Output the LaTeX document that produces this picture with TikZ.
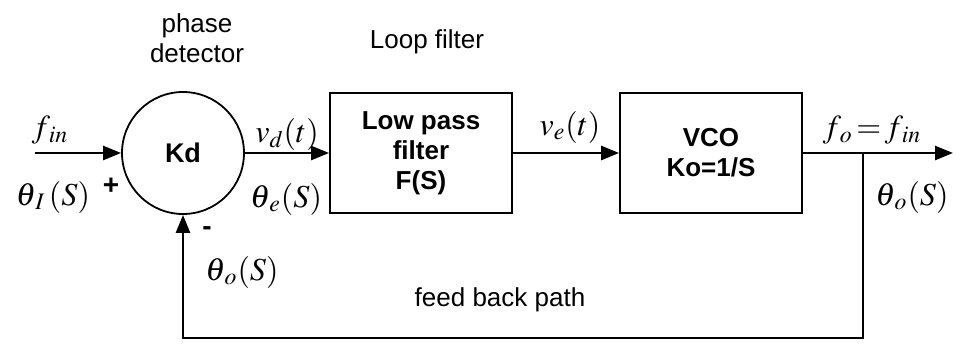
\documentclass[tikz,border=0pt]{standalone}
\usepackage{mathptmx}
\usepackage[no-math]{fontspec}
\setmainfont{Liberation Sans}
\usetikzlibrary{arrows.meta, positioning}

\begin{document}
\begin{tikzpicture}[x=0.5pt, y=-0.5pt, >={Triangle[length=9pt, width=7pt]},
  blk/.style={draw, line width=0.9pt, minimum width=91pt, minimum height=60pt, inner sep=0pt,
              align=center, font=\fontsize{13}{15}\selectfont\bfseries},
  txt/.style={align=center, font=\fontsize{13}{15}\selectfont},
  sig/.style={inner sep=0pt, font=\fontsize{16}{18}\selectfont},
  wire/.style={line width=1.3pt}]
  \useasboundingbox (0,0) rectangle (965,348);
  % blocks
  \node[circle, draw, line width=0.9pt, minimum size=61pt, inner sep=0pt,
        font=\fontsize{13.5}{15}\selectfont\bfseries] (pd) at (183,153) {Kd};
  \node[blk] (lpf) at (421,153) {Low pass\\filter\\F(S)};
  \node[blk] (vco) at (711,153) {VCO\\Ko=1/S};
  % titles
  \node[txt] (pdname) at (197,38) {phase\\detector};
  \node[txt] (lfname) at (427,42) {Loop filter};
  \node[txt] (fbname) at (500,300) {feed back path};
  % forward path
  \coordinate (fin) at (35,153);
  \coordinate (fout) at (953,153);
  \coordinate (br) at (863,153);
  \coordinate (fb) at (863,338);
  \draw[wire, ->] (fin) -- (pd.west);
  \draw[wire, ->] (pd.east) -- (lpf.west);
  \draw[wire, ->] (lpf.east) -- (vco.west);
  \draw[wire, ->] (vco.east) -- (fout);
  % feed back path
  \draw[wire, ->] (br) -- (fb) -| (pd.south);
  % signals
  \node[sig] (fi) at (50,130) {$f_{\,in}$};
  \node[sig] (thi) at (53,197) {$\theta_{\,I}\,(S)$};
  \node[font=\fontsize{14}{15}\selectfont\bfseries] (plus) at (111,186) {+};
  \node[font=\fontsize{14}{15}\selectfont\bfseries] (minus) at (207,231) {-};
  \node[sig] (vd) at (287,134) {$v_d(t)$};
  \node[sig] (the) at (286,199) {$\theta_{\,e}(S)$};
  \node[sig] (tho) at (242,272) {$\theta_{\,o}(S)$};
  \node[sig] (ve) at (570,127) {$v_e(t)$};
  \node[sig] (fo) at (872,130) {$f_{\,o}\!=\!f_{\,in}$};
  \node[sig] (thor) at (912,197) {$\theta_{\,o}(S)$};
\end{tikzpicture}
\end{document}
